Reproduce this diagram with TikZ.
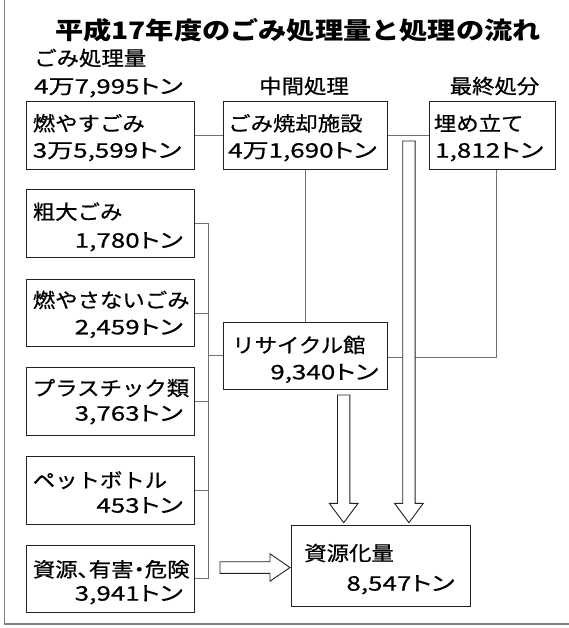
\documentclass[tikz,border=0pt]{standalone}
\usepackage{fontspec}
\setmainfont[FakeStretch=1.12,FakeBold=0.6]{Noto Sans CJK JP}
\newfontfamily\amtfont[FakeStretch=1.3,FakeBold=0.6,CharacterWidth=AlternateProportional]{Noto Sans CJK JP}
\newfontfamily\titlefont[FakeStretch=1.175]{Noto Sans CJK JP}
\usetikzlibrary{calc,fit}
\definecolor{boxcol}{HTML}{222222}
\definecolor{conncol}{HTML}{707070}
\definecolor{framecol}{HTML}{808080}
\newcommand{\vblock}[2]{\draw[blockarr] let \p1=(#1), \p2=(#2) in
  (\x1-6.2pt,\y1) -- (\x1+6.2pt,\y1) -- (\x1+6.2pt,\y2+19.4pt) -- (\x1+14.4pt,\y2+19.4pt)
  -- (\x1,\y2) -- (\x1-14.4pt,\y2+19.4pt) -- (\x1-6.2pt,\y2+19.4pt) -- cycle;}
\newcommand{\hblock}[2]{\draw[blockarr] let \p1=(#1), \p2=(#2) in
  (\x1,\y1+5.8pt) -- (\x2-20pt,\y1+5.8pt) -- (\x2-20pt,\y1+13.7pt) -- (\x2,\y1)
  -- (\x2-20pt,\y1-13.7pt) -- (\x2-20pt,\y1-5.8pt) -- (\x1,\y1-5.8pt) -- cycle;}
\begin{document}
\begin{tikzpicture}[x=1pt,y=-1pt,
  box/.style={draw=boxcol,line width=1pt,inner sep=0pt,rectangle},
  conn/.style={draw=conncol,line width=1pt},
  blockarr/.style={draw=boxcol,line width=0.9pt,fill=white,line join=miter},
  txt/.style={inner sep=0pt,font=\fontsize{20}{24}\selectfont,text height=17.6pt,text depth=2.4pt,text=black},
  amt/.style={inner sep=0pt,font=\amtfont\fontsize{20}{24}\selectfont,text height=17.6pt,text depth=2.4pt,text=black},
  ttl/.style={inner sep=0pt,font=\titlefont\bfseries\fontsize{24}{28}\selectfont,text=black}]
\useasboundingbox[fill=white] (0,0) rectangle (568,628);
% frame
\draw[framecol,line width=1.5pt] (4.3,-5) -- (4.3,624) -- (575,624);
% title and headers
\node[ttl] (title) at (298,30) {平成17年度のごみ処理量と処理の流れ};
\node[txt,anchor=west] (hdr1) at (34,58) {ごみ処理量};
\node[amt,anchor=west] (hdr2) at (34,86) {4万7,995トン};
\node[txt] (hdr3) at (304,86) {中間処理};
\node[txt] (hdr4) at (494.5,86) {最終処分};
% boxes
\node[box,fit={(26,101.7) (194.6,169.3)}] (moyasu) {};
\node[box,fit={(223.6,101.7) (387.5,169.3)}] (shokyaku) {};
\node[box,fit={(429,101.7) (555,169.3)}] (umetate) {};
\node[box,fit={(26,190) (194.6,257)}] (sodai) {};
\node[box,fit={(26,279.3) (194.6,346.7)}] (moyasanai) {};
\node[box,fit={(26,367.7) (194.6,435.3)}] (pla) {};
\node[box,fit={(26,456.7) (194.6,524.3)}] (pet) {};
\node[box,fit={(26,545) (194.6,612.7)}] (shigen) {};
\node[box,fit={(223.6,322.3) (387.5,389.5)}] (recycle) {};
\node[box,fit={(291.7,525.3) (470,606.7)}] (shigenka) {};
% box texts
\node[txt,anchor=west] (t1a) at (32.6,123.3) {燃やすごみ};
\node[amt,anchor=west] (t1b) at (32.6,150) {3万5,599トン};
\node[txt,anchor=west] (t2a) at (228,123.3) {ごみ焼却施設};
\node[amt,anchor=west] (t2b) at (228,150) {4万1,690トン};
\node[txt,anchor=west] (t3a) at (433.7,123.3) {埋め立て};
\node[amt,anchor=west] (t3b) at (435,150) {1,812トン};
\node[txt,anchor=west] (t4a) at (32.6,211.7) {粗大ごみ};
\node[amt,anchor=east] (t4b) at (183,240) {1,780トン};
\node[txt,anchor=west] (t5a) at (32.6,300) {燃やさないごみ};
\node[amt,anchor=east] (t5b) at (183,326.7) {2,459トン};
\node[txt,anchor=west] (t6a) at (32.6,388) {プラスチック類};
\node[amt,anchor=east] (t6b) at (183,413) {3,763トン};
\node[txt,anchor=west] (t7a) at (32.6,480) {ペットボトル};
\node[amt,anchor=east] (t7b) at (183,505) {453トン};
\node[txt,anchor=west] (t8a) at (32.6,569.3) {\addfontfeature{CharacterWidth=AlternateProportional}資源、有害・危険};
\node[amt,anchor=east] (t8b) at (183,593) {3,941トン};
\node[txt,anchor=west] (t9a) at (232,345) {リサイクル館};
\node[amt,anchor=east] (t9b) at (378.6,371.7) {9,340トン};
\node[txt,anchor=west] (t10a) at (304,553) {資源化量};
\node[amt,anchor=east] (t10b) at (454.7,583) {8,547トン};
% connectors
\draw[conn] (moyasu.east) -- (shokyaku.west);
\draw[conn] (shokyaku.east) -- (umetate.west);
\draw[conn] (shokyaku.south) -- (recycle.north);
\coordinate (ucorner) at (496,357);
\draw[conn] (umetate.south -| ucorner) -- (ucorner) -- (recycle.east |- ucorner);
\coordinate (brk) at (208.3,0);
\draw[conn] (sodai.east) -| (brk |- shigen.east) -- (shigen.east);
\draw[conn] (moyasanai.east) -- (brk |- moyasanai.east);
\draw[conn] (pla.east) -- (brk |- pla.east);
\draw[conn] (pet.east) -- (brk |- pet.east);
\draw[conn] (brk |- recycle.west) -- (recycle.west);
% block arrows
\coordinate (aAs) at (343.7,395);
\coordinate (aAe) at (343.7,522.7);
\coordinate (aBs) at (408.9,141);
\coordinate (aBe) at (408.9,522.7);
\coordinate (aCs) at (220,567.5);
\coordinate (aCe) at (290,567.5);
\vblock{aAs}{aAe}
\vblock{aBs}{aBe}
\hblock{aCs}{aCe}
\end{tikzpicture}
\end{document}
